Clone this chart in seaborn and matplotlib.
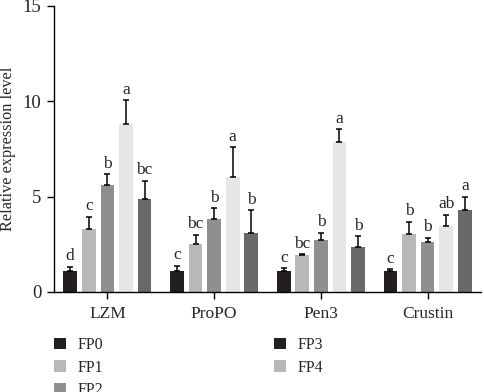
import numpy as np
import pandas as pd
import seaborn as sns
import matplotlib.pyplot as plt
from matplotlib.patches import Patch

# dados
genes = ['LZM', 'ProPO', 'Pen3', 'Crustin']
groups = ['FP0', 'FP1', 'FP2', 'FP3', 'FP4']

fp0 = [1.10, 1.12, 1.10, 1.10]
fp1 = [3.29, 2.50, 1.94, 3.04]
fp2 = [5.59, 3.84, 2.73, 2.62]
fp3 = [8.81, 6.03, 7.88, 3.46]
fp4 = [4.86, 3.08, 2.34, 4.28]

fp0_err = [0.23, 0.24, 0.14, 0.09]
fp1_err = [0.63, 0.49, 0.03, 0.63]
fp2_err = [0.58, 0.55, 0.35, 0.21]
fp3_err = [1.24, 1.56, 0.65, 0.58]
fp4_err = [0.96, 1.20, 0.58, 0.72]

fp0_lbl = ['d', 'c', 'c', 'c']
fp1_lbl = ['c', 'bc', 'bc', 'b']
fp2_lbl = ['b', 'b', 'b', 'b']
fp3_lbl = ['a', 'a', 'a', 'ab']
fp4_lbl = ['bc', 'b', 'b', 'a']

colors = ['#231f20', '#b8b8b9', '#8f8f91', '#e5e6e7', '#69696b']
# a legenda original mostra FP3/FP4 com cores trocadas
legend_colors = ['#231f20', '#b8b8b9', '#8f8f91', '#231f20', '#b8b8b9']

values = [fp0, fp1, fp2, fp3, fp4]
errors = [fp0_err, fp1_err, fp2_err, fp3_err, fp4_err]
letters = [fp0_lbl, fp1_lbl, fp2_lbl, fp3_lbl, fp4_lbl]

rows = []
for g, vals in zip(groups, values):
    for gene, v in zip(genes, vals):
        rows.append({'gene': gene, 'group': g, 'value': v})
df = pd.DataFrame(rows)

sns.set_style('ticks')
plt.rcParams['font.family'] = ['Liberation Serif', 'DejaVu Serif']

fig = plt.figure(figsize=(4.84, 3.92), dpi=100)
ax = fig.add_axes([54 / 484, 1 - 292 / 392, 427 / 484, 286 / 392])

sns.barplot(data=df, x='gene', y='value', hue='group', order=genes, hue_order=groups,
            palette=colors, saturation=1, errorbar=None, width=0.87, gap=0.26,
            linewidth=0, legend=False, ax=ax)

# barras de erro (só para cima) e letras
for container, err, lbl in zip(ax.containers, errors, letters):
    for bar, e, l in zip(container, err, lbl):
        x = bar.get_x() + bar.get_width() / 2
        h = bar.get_height()
        ax.errorbar(x, h, yerr=[[0], [e]], fmt='none', ecolor='black',
                    elinewidth=1.1, capsize=2.5, capthick=1.1)
        ax.annotate(l, (x, h + e), xytext=(0, 2), textcoords='offset points',
                    ha='center', va='bottom', fontsize=12.5)

ax.set_xlim(-0.5, 3.5)
ax.set_ylim(0, 15)
ax.set_yticks([0, 5, 10, 15])
ax.set_xlabel('')
ax.set_ylabel('Relative expression level', fontsize=11.7)
ax.yaxis.set_label_coords(-0.088, 0.5)
ax.tick_params(axis='both', labelsize=12.5, length=5, width=1, color='black')
ax.tick_params(axis='y', labelsize=13.5, pad=4)
ax.tick_params(axis='x', pad=5)
for side in ['top', 'right']:
    ax.spines[side].set_visible(False)
for side in ['left', 'bottom']:
    ax.spines[side].set_linewidth(1)
    ax.spines[side].set_color('black')

handles = [Patch(facecolor=c, edgecolor='none', label=g) for c, g in zip(legend_colors, groups)]
fig.legend(handles=handles, loc='upper left', bbox_to_anchor=(54 / 484, 1 - 337 / 392),
           ncol=2, frameon=False, fontsize=11.5, borderpad=0, borderaxespad=0,
           handlelength=0.72, handleheight=0.72, handletextpad=0.75,
           labelspacing=0.42, columnspacing=10.7)

plt.savefig('out.png', dpi=100)
